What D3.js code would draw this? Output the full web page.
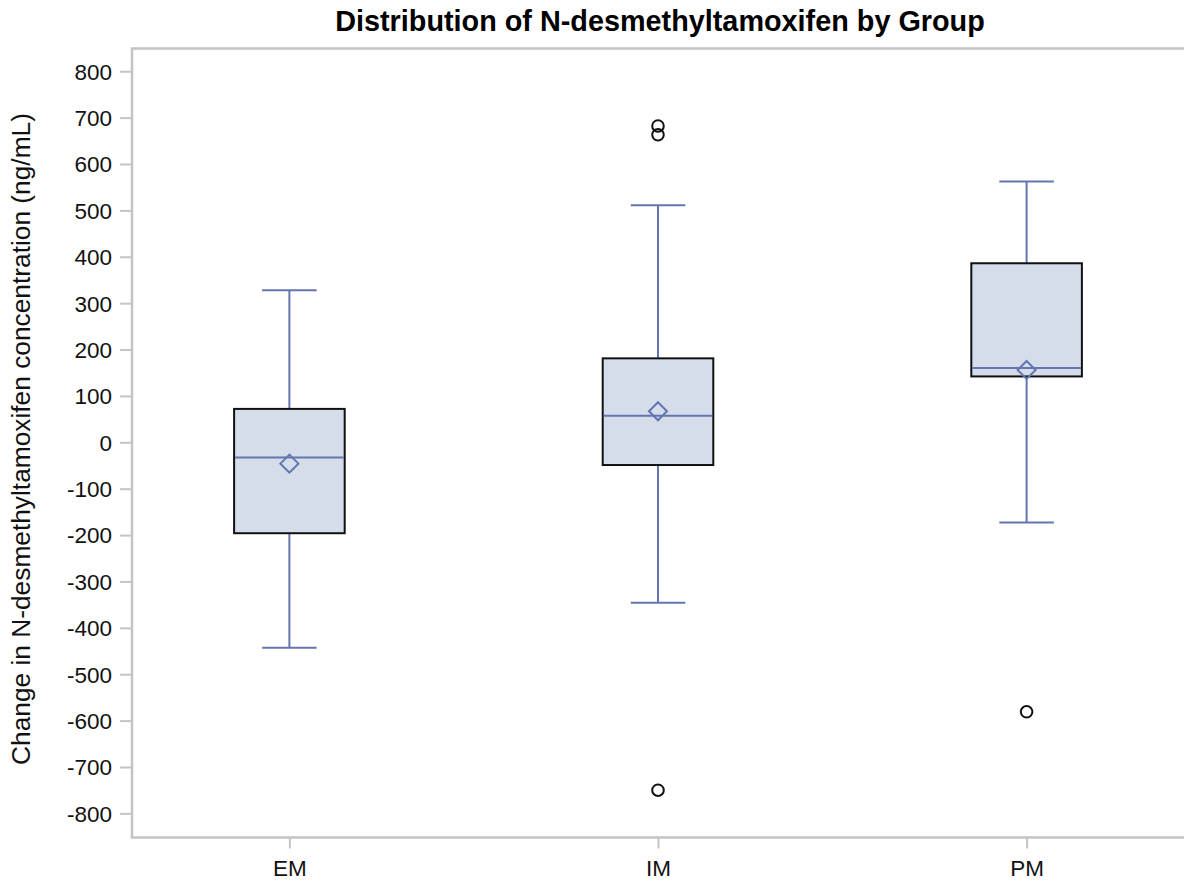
<!DOCTYPE html>
<html>
<head>
<meta charset="utf-8">
<script src="https://cdn.jsdelivr.net/npm/d3@7"></script>
<style>
  body { margin: 0; background: #fff; overflow: hidden; }
  svg { display: block; }
  text { font-family: "Liberation Sans", Arial, sans-serif; }
</style>
</head>
<body>
<div id="chart"></div>
<script>
// Box plot summary values
const groups = ["EM", "IM", "PM"];
const q1 = [-196, -49, 142];
const median = [-33, 57, 160];
const q3 = [72, 181, 386];
const mean = [-46, 67, 156];
const whiskerLow = [-443, -346, -173];
const whiskerHigh = [328, 511, 562];
const outlierGroup = ["IM", "IM", "IM", "PM"];
const outlierValue = [682, 663, -750, -581];
const yTicks = [800, 700, 600, 500, 400, 300, 200, 100, 0, -100, -200, -300, -400, -500, -600, -700, -800];

const width = 1184, height = 886;
const margin = { top: 48.5, right: 0, bottom: 48.5, left: 132 };
const innerWidth = width - margin.left - margin.right;
const innerHeight = height - margin.top - margin.bottom;

const lineColor = "#6475b0";
const fillColor = "#d4dde9";
const axisColor = "#c4c4c4";

let svg = d3.select("#chart").append("svg")
	.attr("width", width)
	.attr("height", height);

// x position scale
let x = d3.scalePoint()
	.domain(groups)
	.range([0, innerWidth])
	.padding(0.427);

// y position scale
let y = d3.scaleLinear()
	.domain([-852, 849])
	.range([innerHeight, 0]);

const g = svg.append("g")
	.attr("transform", "translate(" + margin.left + "," + margin.top + ")");

// frame
g.append("rect")
	.attr("x", 0).attr("y", 0)
	.attr("width", innerWidth + 10)
	.attr("height", innerHeight)
	.attr("fill", "none")
	.attr("stroke", axisColor)
	.attr("stroke-width", 2.5);

// Y Axis
let yAxis = g.append("g")
	.call(d3.axisLeft(y).tickValues(yTicks).tickSize(12).tickPadding(8).tickFormat(d => String(d)));
yAxis.select(".domain").remove();
yAxis.selectAll(".tick line").attr("stroke", axisColor).attr("stroke-width", 2);
yAxis.selectAll(".tick text")
	.attr("fill", "#111")
	.attr("dy", "0.35em")
	.style("font-size", "22.5px")
	.style("font-family", "'Liberation Sans', Arial, sans-serif");

// X Axis
let xAxis = g.append("g")
	.attr("transform", "translate(0," + innerHeight + ")")
	.call(d3.axisBottom(x).tickSize(11));
xAxis.select(".domain").remove();
xAxis.selectAll(".tick line").attr("stroke", axisColor).attr("stroke-width", 2);
xAxis.selectAll(".tick text")
	.attr("y", 38.5)
	.attr("dy", null)
	.attr("fill", "#111")
	.style("font-size", "22.5px")
	.style("font-family", "'Liberation Sans', Arial, sans-serif");

// axis label
svg.append("text")
	.attr("transform", "rotate(-90)")
	.attr("x", -(margin.top + innerHeight / 2) + 4)
	.attr("y", 30)
	.attr("text-anchor", "middle")
	.attr("fill", "#111")
	.style("font-size", "26.3px")
	.text("Change in N-desmethyltamoxifen concentration (ng/mL)");

// title
svg.append("text")
	.attr("x", margin.left + innerWidth / 2 + 2)
	.attr("y", 31)
	.attr("text-anchor", "middle")
	.attr("fill", "#000")
	.style("font-size", "28.8px")
	.style("font-weight", "bold")
	.text("Distribution of N-desmethyltamoxifen by Group");

const step = x.step();
const boxW = step * 0.3;
const capW = step * 0.148;

let boxes = g.selectAll(".box")
	.data(groups)
	.enter().append("g")
	.attr("class", "box");

// whiskers
boxes.append("line")
	.attr("x1", d => x(d)).attr("x2", d => x(d))
	.attr("y1", (d, i) => y(whiskerHigh[i]))
	.attr("y2", (d, i) => y(q3[i]))
	.attr("stroke", lineColor).attr("stroke-width", 2);
boxes.append("line")
	.attr("x1", d => x(d)).attr("x2", d => x(d))
	.attr("y1", (d, i) => y(q1[i]))
	.attr("y2", (d, i) => y(whiskerLow[i]))
	.attr("stroke", lineColor).attr("stroke-width", 2);
boxes.append("line")
	.attr("x1", d => x(d) - capW / 2).attr("x2", d => x(d) + capW / 2)
	.attr("y1", (d, i) => y(whiskerHigh[i]))
	.attr("y2", (d, i) => y(whiskerHigh[i]))
	.attr("stroke", lineColor).attr("stroke-width", 2);
boxes.append("line")
	.attr("x1", d => x(d) - capW / 2).attr("x2", d => x(d) + capW / 2)
	.attr("y1", (d, i) => y(whiskerLow[i]))
	.attr("y2", (d, i) => y(whiskerLow[i]))
	.attr("stroke", lineColor).attr("stroke-width", 2);

// box
boxes.append("rect")
	.attr("x", d => x(d) - boxW / 2)
	.attr("y", (d, i) => y(q3[i]))
	.attr("width", boxW)
	.attr("height", (d, i) => y(q1[i]) - y(q3[i]))
	.attr("fill", fillColor)
	.attr("stroke", "#111")
	.attr("stroke-width", 2);

// median
boxes.append("line")
	.attr("x1", d => x(d) - boxW / 2 + 1).attr("x2", d => x(d) + boxW / 2 - 1)
	.attr("y1", (d, i) => y(median[i]))
	.attr("y2", (d, i) => y(median[i]))
	.attr("stroke", lineColor).attr("stroke-width", 2);

// mean diamond
boxes.append("path")
	.attr("d", (d, i) => {
		let cx = x(d), cy = y(mean[i]), r = 9;
		return "M" + cx + "," + (cy - r) + "L" + (cx + r) + "," + cy + "L" + cx + "," + (cy + r) + "L" + (cx - r) + "," + cy + "Z";
	})
	.attr("fill", "none")
	.attr("stroke", lineColor)
	.attr("stroke-width", 2);

// outliers
g.selectAll(".outlier")
	.data(outlierValue)
	.enter().append("circle")
	.attr("class", "outlier")
	.attr("cx", (d, i) => x(outlierGroup[i]))
	.attr("cy", d => y(d))
	.attr("r", 5.8)
	.attr("fill", "none")
	.attr("stroke", "#111")
	.attr("stroke-width", 2);
</script>
</body>
</html>
